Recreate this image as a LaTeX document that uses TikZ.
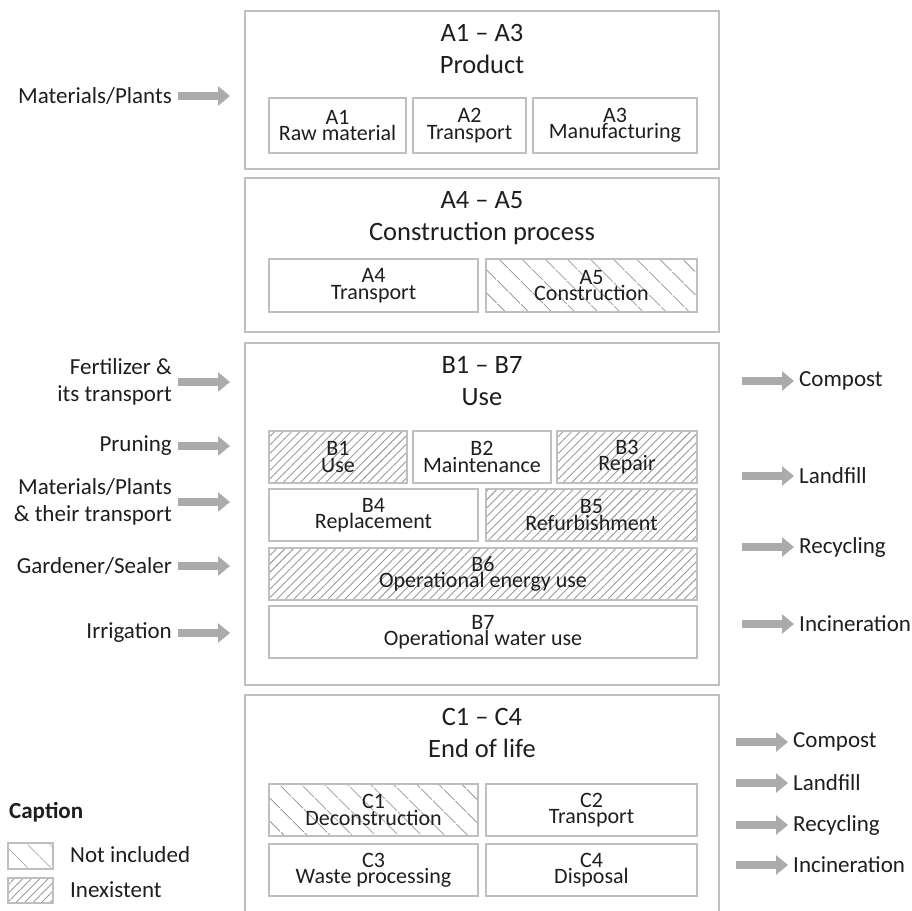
\documentclass[tikz,border=0pt]{standalone}
\usepackage{fontspec}
\setmainfont{Carlito}
\usepackage{tikz}
\usetikzlibrary{arrows.meta, patterns.meta, positioning}
\definecolor{framegray}{HTML}{BFBFBF}
\definecolor{arrowgray}{HTML}{ABABAB}
\definecolor{hatchgray}{HTML}{9A9A9A}
\definecolor{inkgray}{HTML}{1E1E1E}
\tikzset{
  stagebox/.style={
    draw=framegray, line width=1.5pt, rectangle, inner sep=0pt
  },
  stagetitle/.style={
    anchor=base, inner sep=0pt, text=inkgray, font=\fontsize{26.5}{30}\selectfont
  },
  modbox/.style={
    draw=framegray, line width=1.5pt, rectangle, inner sep=0pt,
    align=center, text=inkgray, font=\fontsize{22}{16.5}\selectfont
  },
  notincl/.style={
    modbox, pattern={Lines[angle=-45, distance=17pt, line width=1pt]},
    pattern color=hatchgray
  },
  inexist/.style={
    modbox, pattern={Lines[angle=45, distance=6pt, line width=0.9pt]},
    pattern color=hatchgray
  },
  flowlabel/.style={
    inner sep=0pt, text=inkgray, font=\fontsize{23}{27}\selectfont
  },
  flowarrow/.style={
    draw=arrowgray, line width=8pt, -{Triangle[length=12pt, width=19pt]}
  }
}

\begin{document}
\begin{tikzpicture}[x=1pt, y=-1pt]
\useasboundingbox (0,0) rectangle (912,910);

% stage frames
\node[stagebox, minimum width=474pt, minimum height=158pt] (prod)   at (482,90)    {};
\node[stagebox, minimum width=474pt, minimum height=154pt] (constr) at (482,255)   {};
\node[stagebox, minimum width=474pt, minimum height=342pt] (use)    at (482,514)   {};
\node[stagebox, minimum width=474pt, minimum height=222pt] (eol)    at (482,806)   {};

\node[stagetitle] (prodcode)   at (482,41)  {A1 – A3};
\node[stagetitle] (prodname)   at (482,73)  {Product};
\node[stagetitle] (constrcode) at (482,208) {A4 – A5};
\node[stagetitle] (constrname) at (482,240) {Construction process};
\node[stagetitle] (usecode)    at (482,373) {B1 – B7};
\node[stagetitle] (usename)    at (482,405) {Use};
\node[stagetitle] (eolcode)    at (482,725) {C1 – C4};
\node[stagetitle] (eolname)    at (482,757) {End of life};

% modules
\node[modbox, minimum width=137pt, minimum height=55pt] (a1) at (337.5,125.5) {A1\\Raw material};
\node[modbox, minimum width=113pt, minimum height=55pt] (a2) at (469.5,125.5) {A2\\Transport};
\node[modbox, minimum width=164pt, minimum height=55pt] (a3) at (615,125.5)   {A3\\Manufacturing};

\node[modbox,  minimum width=209pt, minimum height=53pt] (a4) at (373.5,285.5) {A4\\Transport};
\node[notincl, minimum width=211pt, minimum height=53pt] (a5) at (591.5,285.5) {A5\\Construction};

\node[inexist, minimum width=138pt, minimum height=52pt] (b1) at (338,457) {B1\\Use};
\node[modbox,  minimum width=138pt, minimum height=52pt] (b2) at (482,457) {B2\\Maintenance};
\node[inexist, minimum width=140pt, minimum height=52pt] (b3) at (627,457) {B3\\Repair};
\node[modbox,  minimum width=209pt, minimum height=52pt] (b4) at (373.5,515) {B4\\Replacement};
\node[inexist, minimum width=211pt, minimum height=52pt] (b5) at (591.5,515) {B5\\Refurbishment};
\node[inexist, minimum width=428pt, minimum height=52pt] (b6) at (483,574) {B6\\Operational energy use};
\node[modbox,  minimum width=428pt, minimum height=52pt] (b7) at (483,632) {B7\\Operational water use};

\node[notincl, minimum width=209pt, minimum height=52pt] (c1) at (373.5,810) {C1\\Deconstruction};
\node[modbox,  minimum width=211pt, minimum height=52pt] (c2) at (591.5,810) {C2\\Transport};
\node[modbox,  minimum width=209pt, minimum height=52pt] (c3) at (373.5,870) {C3\\Waste processing};
\node[modbox,  minimum width=211pt, minimum height=52pt] (c4) at (591.5,870) {C4\\Disposal};

% inputs
\node[flowlabel, anchor=east, align=right] (matin)  at (172,96)  {Materials/Plants};
\node[flowlabel, anchor=east, align=right] (fert)   at (172,382) {Fertilizer \&\\its transport};
\node[flowlabel, anchor=east, align=right] (prune)  at (172,446) {Pruning};
\node[flowlabel, anchor=east, align=right] (matuse) at (172,502) {Materials/Plants\\\& their transport};
\node[flowlabel, anchor=east, align=right] (garden) at (172,566) {Gardener/Sealer};
\node[flowlabel, anchor=east, align=right] (irrig)  at (172,633) {Irrigation};

\coordinate (matinTip)  at (230,96);
\coordinate (fertTip)   at (230,382);
\coordinate (pruneTip)  at (230,446);
\coordinate (matuseTip) at (230,502);
\coordinate (gardenTip) at (230,566);
\coordinate (irrigTip)  at (230,633);

\draw[flowarrow] ([xshift=6pt]matin.east)  -- (matinTip);
\draw[flowarrow] ([xshift=6pt]fert.east)   -- (fertTip);
\draw[flowarrow] ([xshift=6pt]prune.east)  -- (pruneTip);
\draw[flowarrow] ([xshift=6pt]matuse.east) -- (matuseTip);
\draw[flowarrow] ([xshift=6pt]garden.east) -- (gardenTip);
\draw[flowarrow] ([xshift=6pt]irrig.east)  -- (irrigTip);

% outputs of use stage
\node[flowlabel, anchor=west] (useComp) at (799,381) {Compost};
\node[flowlabel, anchor=west] (useLand) at (799,476) {Landfill};
\node[flowlabel, anchor=west] (useRecy) at (799,547) {Recycling};
\node[flowlabel, anchor=west] (useInci) at (799,624) {Incineration};

\coordinate (useCompStart) at (742,381);
\coordinate (useLandStart) at (742,476);
\coordinate (useRecyStart) at (742,547);
\coordinate (useInciStart) at (742,624);

\draw[flowarrow] (useCompStart) -- ([xshift=-5pt]useComp.west);
\draw[flowarrow] (useLandStart) -- ([xshift=-5pt]useLand.west);
\draw[flowarrow] (useRecyStart) -- ([xshift=-5pt]useRecy.west);
\draw[flowarrow] (useInciStart) -- ([xshift=-5pt]useInci.west);

% outputs of end of life
\node[flowlabel, anchor=west] (eolComp) at (793,742) {Compost};
\node[flowlabel, anchor=west] (eolLand) at (793,783) {Landfill};
\node[flowlabel, anchor=west] (eolRecy) at (793,825) {Recycling};
\node[flowlabel, anchor=west] (eolInci) at (793,865) {Incineration};

\coordinate (eolCompStart) at (736,742);
\coordinate (eolLandStart) at (736,783);
\coordinate (eolRecyStart) at (736,825);
\coordinate (eolInciStart) at (736,865);

\draw[flowarrow] (eolCompStart) -- ([xshift=-5pt]eolComp.west);
\draw[flowarrow] (eolLandStart) -- ([xshift=-5pt]eolLand.west);
\draw[flowarrow] (eolRecyStart) -- ([xshift=-5pt]eolRecy.west);
\draw[flowarrow] (eolInciStart) -- ([xshift=-5pt]eolInci.west);

% caption
\node[flowlabel, anchor=west, font=\fontsize{23}{27}\selectfont\bfseries] (legend) at (9,812) {Caption};
\node[notincl, minimum width=45pt, minimum height=26pt] (keyNot) at (30.5,856) {};
\node[inexist, minimum width=45pt, minimum height=25pt] (keyIne) at (30.5,890.5) {};
\node[flowlabel, anchor=west] (keyNotText) at (70,855) {Not included};
\node[flowlabel, anchor=west] (keyIneText) at (70,890) {Inexistent};
\end{tikzpicture}
\end{document}
